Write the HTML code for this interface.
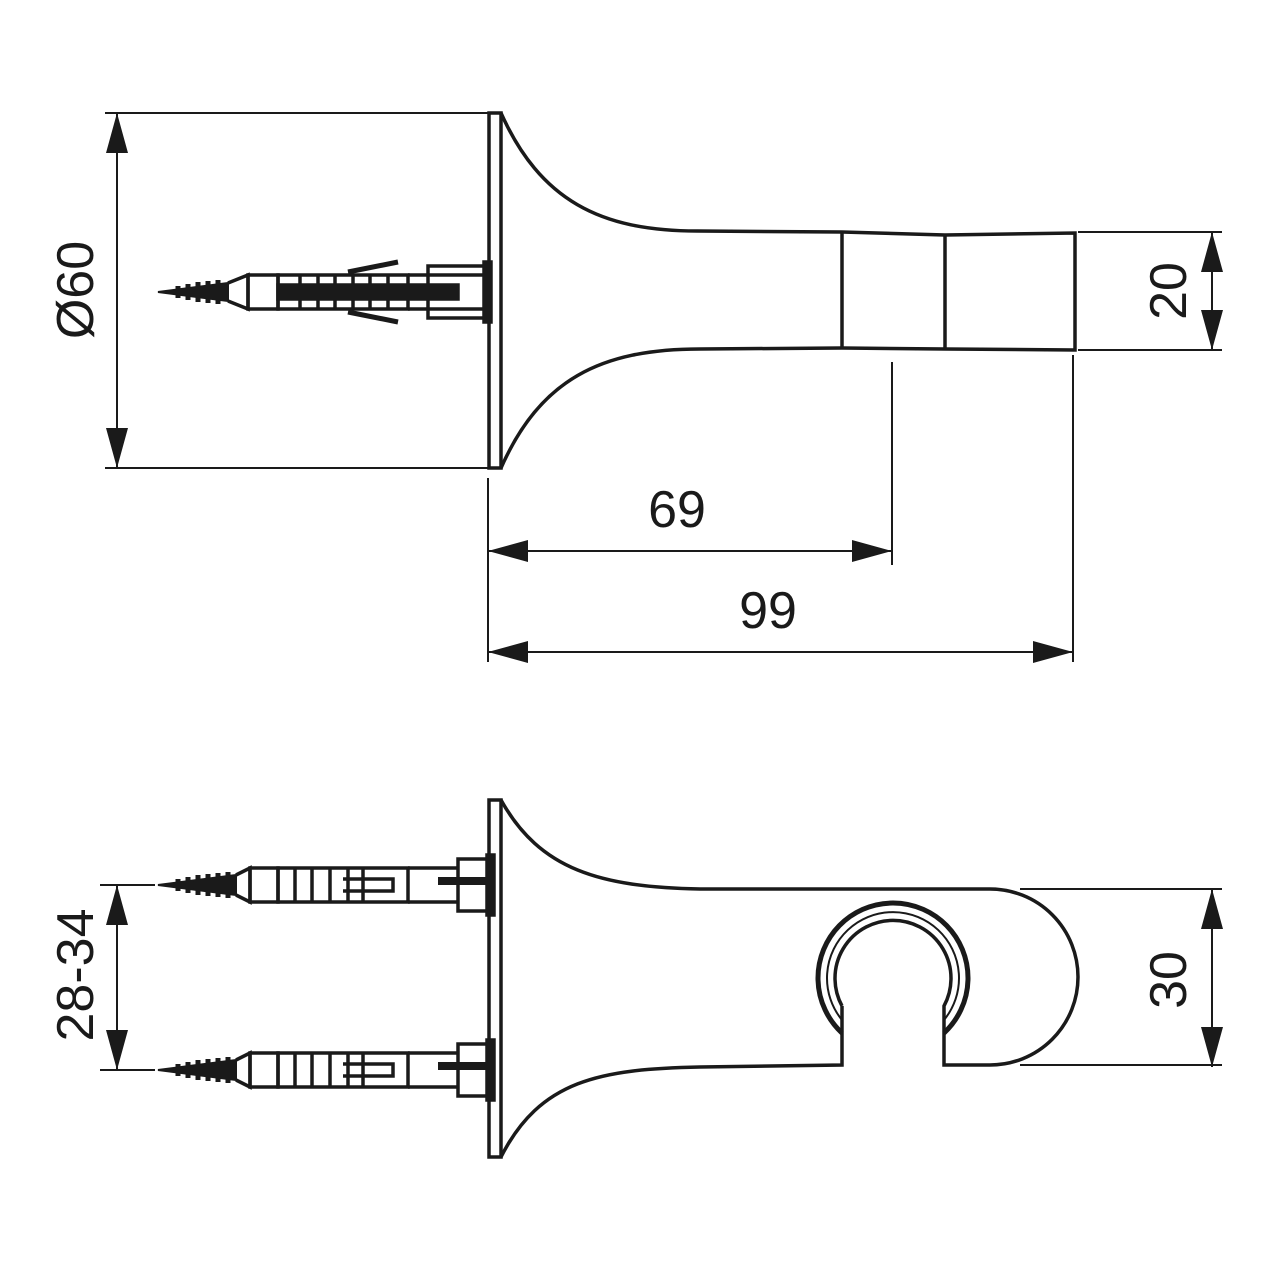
<!DOCTYPE html>
<html><head><meta charset="utf-8"><style>
html,body{margin:0;padding:0;background:#fff}
svg{display:block}
text{font-family:"Liberation Sans",sans-serif;font-size:52px;fill:#1a1a1a}
</style></head><body>
<svg width="1271" height="1271" viewBox="0 0 1271 1271" xmlns="http://www.w3.org/2000/svg">
<g stroke="#1a1a1a" fill="none" stroke-width="3.5">
<!-- top view body -->
<rect x="489" y="113" width="12" height="355"/>
<path d="M501,113 C540,200 600,231 697,231 L842,232 L945,235 L1075,233 L1075,350 L945,349 L842,348 L700,349 C600,349 540,380 501,468"/>
<path d="M842,232 V348 M945,235 V349"/>
<!-- top screw -->
<g transform="translate(158,292)">
  <path d="M0,0 L70,-9 L70,9 Z" fill="#1a1a1a" stroke-width="2"/>
  <path d="M20,-6 v12 M30,-8 v16 M40,-10 v20 M50,-11 v22 M60,-12 v24" stroke-width="5"/>
  <path d="M70,-9 L90,-17 L90,17 L70,9"/>
  <rect x="90" y="-17" width="30" height="34"/>
  <rect x="120" y="-17" width="130" height="34"/>
  <rect x="120" y="-7" width="180" height="14" fill="#1a1a1a"/>
  <path d="M142,-17 v34 M160,-17 v34 M177,-17 v34 M195,-17 v34 M212,-17 v34 M230,-17 v34"/>
  <path d="M250,-17 H330 M250,17 H330"/>
  <path d="M190,-20 L240,-30 M190,20 L240,30" stroke-width="5"/>
  <path d="M270,-26 H330 V26 H270 Z"/>
  <rect x="326" y="-30" width="7" height="60" fill="#1a1a1a"/>
</g>
<!-- dims top -->
<path d="M105,113 H488 M105,468 H488 M117,113 V468" stroke-width="2"/>
<path d="M1078,232 H1222 M1078,350 H1222 M1212,232 V350" stroke-width="2"/>
<path d="M892,362 V565 M1073,355 V662 M488,478 V662 M488,551 H892 M488,652 H1073" stroke-width="2"/>
</g>
<g fill="#1a1a1a">
<path d="M117,113 l-11,40 h22 Z M117,468 l-11,-40 h22 Z"/>
<path d="M1212,232 l-11,40 h22 Z M1212,350 l-11,-40 h22 Z"/>
<path d="M488,551 l40,-11 v22 Z M892,551 l-40,-11 v22 Z"/>
<path d="M488,652 l40,-11 v22 Z M1073,652 l-40,-11 v22 Z"/>
<path d="M117,885 l-11,40 h22 Z M117,1070 l-11,-40 h22 Z"/>
<path d="M1212,889 l-11,40 h22 Z M1212,1067 l-11,-40 h22 Z"/>
</g>
<text x="0" y="0" text-anchor="middle" transform="translate(93,290) rotate(-90)">Ø60</text>
<text x="0" y="0" text-anchor="middle" transform="translate(1186,291) rotate(-90)">20</text>
<text x="677" y="527" text-anchor="middle">69</text>
<text x="768" y="628" text-anchor="middle">99</text>
<text x="0" y="0" text-anchor="middle" transform="translate(1186,980) rotate(-90)">30</text>
<text x="0" y="0" text-anchor="middle" transform="translate(93,975) rotate(-90)">28-34</text>

<g stroke="#1a1a1a" fill="none" stroke-width="3.5">
<!-- bottom view body -->
<rect x="489" y="800" width="12" height="357"/>
<path d="M501,800 C540,870 600,887 700,889 L990,889 A88,88 0 0 1 990,1065 L944,1065 L944,1033 M842,1033 L842,1065 L700,1067 C600,1069 540,1080 501,1157"/>
<path d="M842,1033 A75,75 0 1 1 944,1033" stroke-width="5"/>
<path d="M842,1006 A58,58 0 1 1 944,1006 V1033 M842,1006 V1033"/>
<path d="M842,1020 A66,66 0 1 1 944,1020" stroke-width="2"/>
<path d="M1020,889 H1222 M1020,1065 H1222 M1212,889 V1067" stroke-width="2"/>
<path d="M100,885 H155 M100,1070 H155 M117,885 V1070" stroke-width="2"/>
<!-- bottom screws -->
<g transform="translate(158,885)">
  <path d="M0,0 L78,-10 L78,10 Z" fill="#1a1a1a" stroke-width="2"/>
  <path d="M20,-6 v12 M30,-8 v16 M40,-10 v20 M50,-11 v22 M60,-12 v24 M70,-13 v26" stroke-width="5"/>
  <path d="M78,-10 L92,-17 L92,17 L78,10"/>
  <rect x="92" y="-17" width="28" height="34"/>
  <rect x="120" y="-17" width="130" height="34"/>
  <path d="M137,-17 v34 M154,-17 v34 M172,-17 v34 M190,-17 v34 M205,-17 v34"/>
  <path d="M185,-6 H235 V6 H185"/>
  <path d="M250,-17 H300 M250,17 H300"/>
  <path d="M280,-4 H330" stroke-width="8"/>
  <path d="M300,-26 H335 V26 H300 Z"/>
  <rect x="329" y="-30" width="7" height="60" fill="#1a1a1a"/>
</g>
<g transform="translate(158,1070)">
  <path d="M0,0 L78,-10 L78,10 Z" fill="#1a1a1a" stroke-width="2"/>
  <path d="M20,-6 v12 M30,-8 v16 M40,-10 v20 M50,-11 v22 M60,-12 v24 M70,-13 v26" stroke-width="5"/>
  <path d="M78,-10 L92,-17 L92,17 L78,10"/>
  <rect x="92" y="-17" width="28" height="34"/>
  <rect x="120" y="-17" width="130" height="34"/>
  <path d="M137,-17 v34 M154,-17 v34 M172,-17 v34 M190,-17 v34 M205,-17 v34"/>
  <path d="M185,-6 H235 V6 H185"/>
  <path d="M250,-17 H300 M250,17 H300"/>
  <path d="M280,-4 H330" stroke-width="8"/>
  <path d="M300,-26 H335 V26 H300 Z"/>
  <rect x="329" y="-30" width="7" height="60" fill="#1a1a1a"/>
</g>
</g>
</svg>
</body></html>
